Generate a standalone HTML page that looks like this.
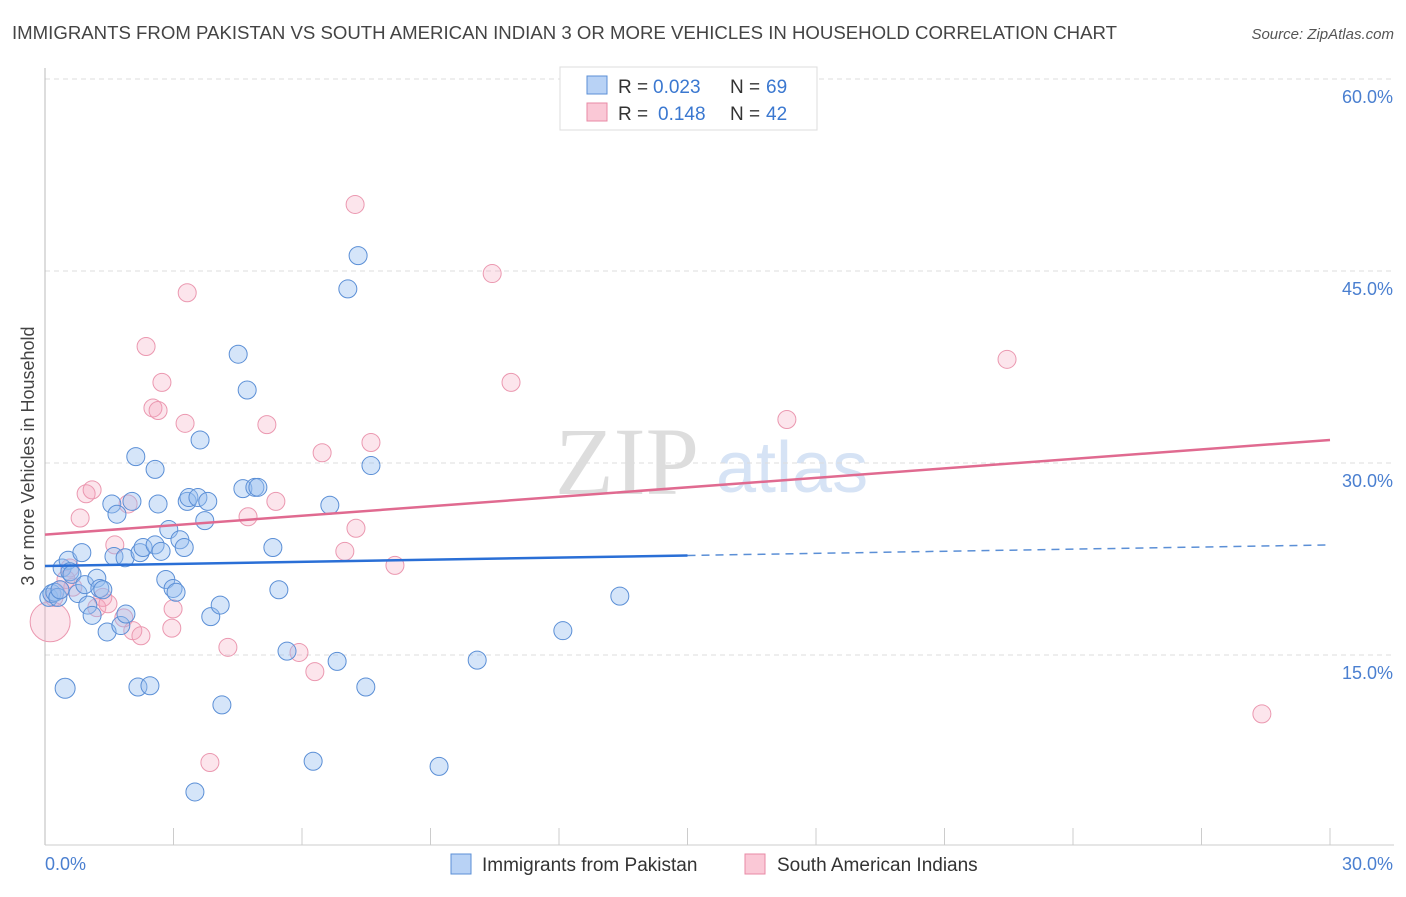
<!DOCTYPE html>
<html><head><meta charset="utf-8"><style>
body{margin:0;background:#fff;font-family:"Liberation Sans",sans-serif;}
svg text{font-family:"Liberation Sans",sans-serif;}
</style></head><body>
<svg id="c" width="1406" height="892">
<text x="12" y="39" font-size="18" fill="#444" textLength="1105" lengthAdjust="spacingAndGlyphs">IMMIGRANTS FROM PAKISTAN VS SOUTH AMERICAN INDIAN 3 OR MORE VEHICLES IN HOUSEHOLD CORRELATION CHART</text>
<text x="1394" y="39" font-size="15" fill="#555" font-style="italic" text-anchor="end">Source: ZipAtlas.com</text>
<text x="34" y="456" font-size="18" fill="#444" text-anchor="middle" transform="rotate(-90 34 456)">3 or more Vehicles in Household</text>
<g>
<text x="555" y="494" font-size="96" fill="#ddd" font-family="Liberation Serif" style="font-family:'Liberation Serif',serif">ZIP</text>
<text x="716" y="492" font-size="72" fill="#d6e3f5">atlas</text>
</g>
<g id="grid"></g>
<g id="pts"></g>
<g id="lines"></g>
<g>
<rect x="560" y="67" width="257" height="63" fill="#fff" stroke="#ddd"/>
<rect x="587" y="76" width="20" height="18" fill="#b8d2f5" stroke="#5b8fd6"/>
<rect x="587" y="103" width="20" height="18" fill="#fac8d6" stroke="#e88aa5"/>
<text x="618" y="93" font-size="19" fill="#333">R =</text>
<text x="653" y="93" font-size="19" fill="#3b78d0">0.023</text>
<text x="730" y="93" font-size="19" fill="#333">N =</text>
<text x="766" y="93" font-size="19" fill="#3b78d0">69</text>
<text x="618" y="120" font-size="19" fill="#333">R =</text>
<text x="658" y="120" font-size="19" fill="#3b78d0">0.148</text>
<text x="730" y="120" font-size="19" fill="#333">N =</text>
<text x="766" y="120" font-size="19" fill="#3b78d0">42</text>
</g>
<g>
<rect x="451" y="854" width="20" height="20" fill="#b8d2f5" stroke="#5b8fd6"/>
<text x="482" y="871" font-size="19" fill="#333">Immigrants from Pakistan</text>
<rect x="745" y="854" width="20" height="20" fill="#fac8d6" stroke="#e88aa5"/>
<text x="777" y="871" font-size="19" fill="#333">South American Indians</text>
</g>
</svg>
<script>
const yTicks=[15,30,45,60];
const yTickLabels=["15.0%","30.0%","45.0%","60.0%"];
const xTickLabels=["0.0%","30.0%"];
const blueX=[.47,.09,.16,.23,.30,.35,.40,.54,.58,.63,.77,.86,.93,1.0,1.1,1.21,1.28,1.35,1.45,1.56,1.61,1.68,1.77,1.87,1.89,2.03,2.12,2.17,2.22,2.29,2.45,2.57,2.57,2.64,2.71,2.82,2.89,2.99,3.06,3.15,3.25,3.32,3.36,3.50,3.57,3.62,3.73,3.80,3.87,4.09,4.13,4.51,4.62,4.72,4.90,4.97,5.32,5.46,5.65,6.26,6.65,6.82,7.07,7.31,7.49,7.61,9.20,10.09,12.09,13.42];
const blueY=[12.4,19.5,19.8,19.9,19.5,20.1,21.8,22.4,21.5,21.3,19.8,23.0,20.5,18.9,18.1,21.0,20.2,20.1,16.8,26.8,22.7,26.0,17.3,22.6,18.2,27.0,30.5,12.5,23.0,23.4,12.6,29.5,23.6,26.8,23.1,20.9,24.8,20.2,19.9,24.0,23.4,27.0,27.3,4.3,27.3,31.8,25.5,27.0,18.0,18.9,11.1,38.5,28.0,35.7,28.1,28.1,23.4,20.1,15.3,6.7,26.7,14.5,43.6,46.2,12.5,29.8,6.3,14.6,16.9,19.6];
const pinkX=[.12,.21,.35,.49,.58,.65,.82,.96,1.10,1.21,1.35,1.47,1.63,1.84,1.94,2.05,2.24,2.36,2.52,2.64,2.73,2.96,2.99,3.27,3.32,3.85,4.27,4.74,5.18,5.39,5.93,6.30,6.47,7.00,7.24,7.26,7.61,8.17,10.44,10.88,17.32,22.46,28.41];
const pinkY=[17.6,19.5,20.1,20.9,21.8,20.3,25.7,27.6,27.9,18.7,19.5,19.0,23.6,17.9,26.8,16.9,16.5,39.1,34.3,34.1,36.3,17.1,18.6,33.1,43.3,6.6,15.6,25.8,33.0,27.0,15.2,13.7,30.8,23.1,50.2,24.9,31.6,22.0,44.8,36.3,33.4,38.1,10.4];
const blueTrend=[21.95,23.6];
const pinkTrend=[24.4,31.8];
const NS="http://www.w3.org/2000/svg";
const X=v=>45+v/30*1285, Y=v=>847-v/15*192;
function mk(t,a,p){const e=document.createElementNS(NS,t);for(const k in a)e.setAttribute(k,a[k]);p.appendChild(e);return e;}
const g=document.getElementById('grid');
yTicks.forEach((t,i)=>{
 const l=mk('line',{x1:45,x2:1394,y1:Y(t),y2:Y(t),stroke:'#ddd','stroke-dasharray':'5,4'},g);
 
 
 const tx=mk('text',{x:1393,y:Y(t)+24,'font-size':18,fill:'#4a7fd0','text-anchor':'end'},g);
 tx.textContent=yTickLabels[i];
 
 
});
mk('line',{x1:45,x2:45,y1:68,y2:845,stroke:'#bbb'},g);
mk('line',{x1:45,x2:1394,y1:845,y2:845,stroke:'#ccc'},g);
for(let i=1;i<=10;i++){const l=mk('line',{x1:X(i*3),x2:X(i*3),y1:828,y2:845,stroke:'#ccc'},g);
 
 }
xTickLabels.forEach((s,i)=>{const tx=mk('text',{x:i?1393:45,y:870,'font-size':18,fill:'#4a7fd0','text-anchor':i?'end':'start'},g);tx.textContent=s;
 
 });
const p=document.getElementById('pts');
pinkX.forEach((x,i)=>{const c=mk('circle',{cx:X(x),cy:Y(pinkY[i]),r:i==0?20:9,fill:'rgba(245,160,185,0.28)',stroke:'#eb98b0','stroke-width':1},p);
 
 });
blueX.forEach((x,i)=>{const c=mk('circle',{cx:X(x),cy:Y(blueY[i]),r:i==0?10:9,fill:'rgba(150,190,240,0.4)',stroke:'#5b8fd6','stroke-width':1},p);
 
 });
const L=document.getElementById('lines');
const bm=blueTrend[0]+(blueTrend[1]-blueTrend[0])*15/30;
const b1=mk('line',{x1:X(0),y1:Y(blueTrend[0]),x2:X(15),y2:Y(bm),stroke:'#2a6fd6','stroke-width':2.5},L);


const b2=mk('line',{x1:X(15),y1:Y(bm),x2:X(30),y2:Y(blueTrend[1]),stroke:'#5b8fd6','stroke-width':1.5,'stroke-dasharray':'8,6'},L);


const pl=mk('line',{x1:X(0),y1:Y(pinkTrend[0]),x2:X(30),y2:Y(pinkTrend[1]),stroke:'#e06a90','stroke-width':2.5},L);


</script>
</body></html>
